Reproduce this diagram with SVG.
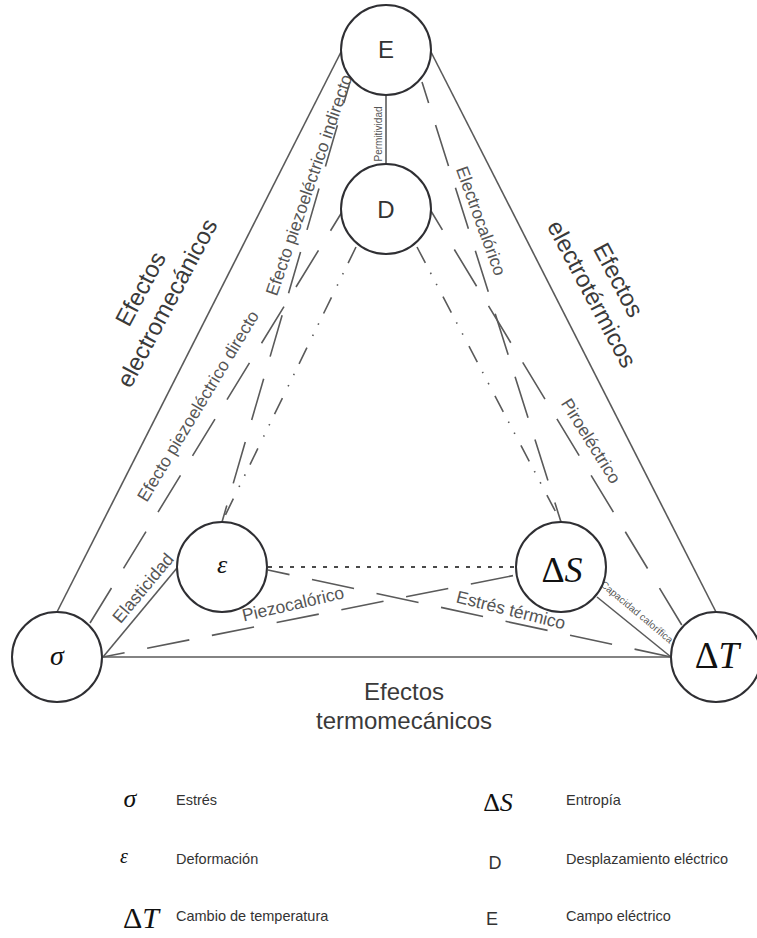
<svg xmlns="http://www.w3.org/2000/svg" width="757" height="938" viewBox="0 0 757 938">
<style>
.bg{fill:#ffffff}
.node{fill:#ffffff;stroke:#2f2f33;stroke-width:2}
.solid{stroke:#5a5a5a;stroke-width:1.6;fill:none}
.dash{stroke:#5a5a5a;stroke-width:1.6;fill:none;stroke-dasharray:43 23;stroke-dashoffset:21}
.dashdot{stroke:#5a5a5a;stroke-width:1.6;fill:none;stroke-dasharray:18 11 1.5 11 1.5 13}
.dot{stroke:#4a4a4a;stroke-width:1.8;fill:none;stroke-dasharray:4 7}
.sans{font-family:"Liberation Sans",Arial,sans-serif;fill:#333333}
.elab{font-family:"Liberation Sans",Arial,sans-serif;fill:#555555;font-size:17.5px}
.small{font-family:"Liberation Sans",Arial,sans-serif;fill:#555555;font-size:10px}
.big{font-family:"Liberation Sans",Arial,sans-serif;fill:#3a3a3a;font-size:24px}
.math{font-family:"Liberation Serif","DejaVu Serif",serif;fill:#111111}
.leg{font-family:"Liberation Sans",Arial,sans-serif;fill:#333333;font-size:14.5px}
</style>
<rect class="bg" x="0" y="0" width="757" height="938"/>

<g id="connectors">
  <line class="solid" x1="57" y1="612" x2="341" y2="52"/>
  <line class="solid" x1="431" y1="52" x2="716" y2="612"/>
  <line class="solid" x1="102" y1="657" x2="671" y2="657"/>
  <line class="solid" x1="386" y1="95" x2="386" y2="164"/>
  <line class="solid" x1="103" y1="657" x2="177" y2="568"/>
  <line class="solid" x1="597" y1="597" x2="671" y2="657"/>
  <line class="dash" x1="350" y1="82" x2="222" y2="522"/>
  <line class="dash" x1="342" y1="212" x2="90" y2="623"/>
  <line class="dash" x1="422" y1="82" x2="561" y2="522"/>
  <line class="dash" x1="431" y1="211" x2="683" y2="627"/>
  <line class="dashdot" x1="356" y1="247" x2="222" y2="522"/>
  <line class="dashdot" x1="417" y1="247" x2="561" y2="522"/>
  <line class="dot" x1="268" y1="567" x2="515" y2="567"/>
  <line class="dash" x1="268" y1="570" x2="671" y2="657"/>
  <line class="dash" x1="103" y1="657" x2="516" y2="575"/>
  <text class="small" transform="translate(378,134) rotate(-90)" text-anchor="middle" dy="3.5">Permitividad</text>
  <text class="elab" transform="translate(309,185) rotate(-71)" text-anchor="middle" dy="6">Efecto piezoeléctrico indirecto</text>
  <text class="elab" transform="translate(198,406) rotate(-59)" text-anchor="middle" dy="6">Efecto piezoeléctrico directo</text>
  <text class="elab" transform="translate(481,221) rotate(70)" text-anchor="middle" dy="6">Electrocalórico</text>
  <text class="elab" transform="translate(591,441) rotate(58)" text-anchor="middle" dy="6">Piroeléctrico</text>
  <text class="elab" transform="translate(293,604) rotate(-13)" text-anchor="middle" dy="6">Piezocalórico</text>
  <text class="elab" transform="translate(511,610) rotate(14)" text-anchor="middle" dy="6">Estrés térmico</text>
  <text class="elab" transform="translate(143,588) rotate(-50)" text-anchor="middle" dy="6">Elasticidad</text>
  <text class="small" transform="translate(637,612) rotate(40)" text-anchor="middle" dy="3.5">Capacidad calorífica</text>
</g>

<g id="node-E">
  <circle class="node" cx="386" cy="50" r="45"/>
  <text class="sans" x="386" y="58" font-size="24" text-anchor="middle">E</text>
</g>
<g id="node-D">
  <circle class="node" cx="386" cy="209" r="45"/>
  <text class="sans" x="386" y="218" font-size="24" text-anchor="middle">D</text>
</g>
<g id="node-epsilon">
  <circle class="node" cx="222" cy="567" r="45"/>
  <text class="math" x="222" y="573" font-size="26" font-style="italic" text-anchor="middle">ε</text>
</g>
<g id="node-sigma">
  <circle class="node" cx="57" cy="657" r="45"/>
  <text class="math" x="57" y="665" font-size="28" font-style="italic" text-anchor="middle">σ</text>
</g>
<g id="node-deltaS">
  <circle class="node" cx="561" cy="567" r="45"/>
  <text class="math" x="562" y="582" font-size="36" text-anchor="middle">Δ<tspan font-style="italic">S</tspan></text>
</g>
<g id="node-deltaT">
  <circle class="node" cx="716" cy="657" r="45"/>
  <text class="math" x="717" y="668" font-size="37" text-anchor="middle">Δ<tspan font-style="italic">T</tspan></text>
</g>

<g id="group-labels">
  <text class="big" transform="translate(154,296) rotate(-62)" text-anchor="middle"><tspan x="0" y="-7">Efectos</tspan><tspan x="0" y="23">electromecánicos</tspan></text>
  <text class="big" transform="translate(605,287) rotate(62)" text-anchor="middle"><tspan x="0" y="-7">Efectos</tspan><tspan x="0" y="23">electrotérmicos</tspan></text>
  <text class="big" text-anchor="middle"><tspan x="404" y="700">Efectos</tspan><tspan x="404" y="729">termomecánicos</tspan></text>
</g>

<g id="legend">
  <text class="math" x="130" y="807" font-size="26" font-style="italic" text-anchor="middle">σ</text>
  <text class="leg" x="176" y="805">Estrés</text>
  <text class="math" x="124" y="863" font-size="20" font-style="italic" text-anchor="middle">ε</text>
  <text class="leg" x="176" y="864">Deformación</text>
  <text class="math" x="141" y="928" font-size="30" text-anchor="middle">Δ<tspan font-style="italic">T</tspan></text>
  <text class="leg" x="176" y="921">Cambio de temperatura</text>
  <text class="math" x="498" y="811" font-size="26" text-anchor="middle">Δ<tspan font-style="italic">S</tspan></text>
  <text class="leg" x="566" y="805">Entropía</text>
  <text class="sans" x="495" y="869" font-size="18" text-anchor="middle">D</text>
  <text class="leg" x="566" y="864">Desplazamiento eléctrico</text>
  <text class="sans" x="492" y="925" font-size="18" text-anchor="middle">E</text>
  <text class="leg" x="566" y="921">Campo eléctrico</text>
</g>
</svg>
